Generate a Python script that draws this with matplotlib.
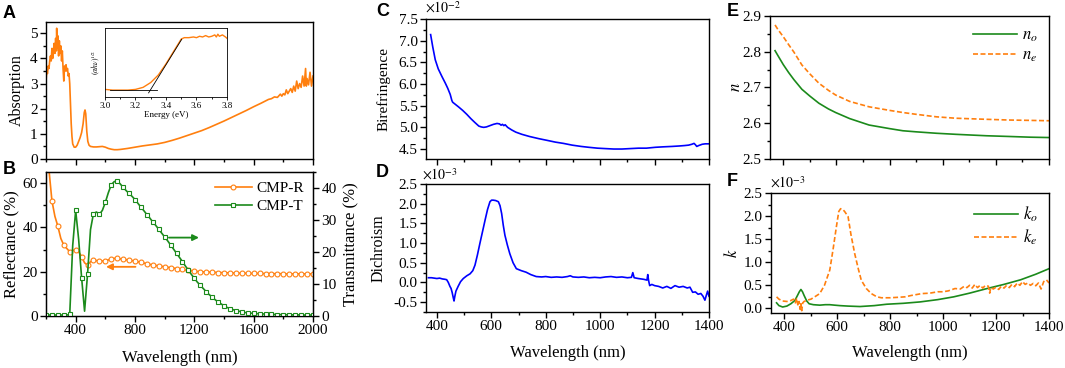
import matplotlib
matplotlib.use("Agg")
import matplotlib.pyplot as plt
from matplotlib.ticker import MultipleLocator, NullFormatter

plt.rcParams["font.family"] = ["Liberation Serif", "DejaVu Serif"]
plt.rcParams["mathtext.fontset"] = "stix"
plt.rcParams["axes.unicode_minus"] = False

ORANGE = "#FF7F0E"
GREEN = "#1B8A1B"
BLUE = "#0000FF"

# ---- panel A: absorption spectrum
abs_wl = [200, 205, 210, 215, 220, 225, 230, 235, 240, 245, 250, 255, 260, 265, 270, 272, 275, 280, 285, 290,
          295, 300, 305, 310, 315, 320, 325, 330, 335, 340, 345, 350, 355, 360, 365, 370, 375, 380, 390, 400,
          410, 420, 430, 440, 450, 458, 463, 468, 475, 482, 490, 500, 520, 540, 560, 580, 600, 620, 640, 660,
          680, 700, 750, 800, 850, 900, 950, 1000, 1050, 1100, 1150, 1200, 1250, 1300, 1350, 1400, 1450, 1500, 1550, 1600,
          1650, 1700, 1720, 1740, 1760, 1780, 1790, 1800, 1810, 1820, 1830, 1840, 1850, 1860, 1870, 1880, 1890, 1900, 1910, 1920,
          1930, 1940, 1950, 1955, 1960, 1970, 1980, 1990, 2000]
abs_val = [3.1, 3.5, 3.4, 3.7, 3.6, 3.9, 4.1, 3.9, 4.4, 4.0, 4.3, 4.6, 4.2, 4.8, 4.3, 5.2, 4.4, 4.9, 4.1, 4.7,
           4.2, 4.5, 3.9, 4.3, 3.6, 3.1, 3.7, 3.5, 3.75, 3.5, 3.6, 3.3, 3.4, 3.0, 2.2, 1.4, 0.9, 0.6, 0.47, 0.47,
           0.55, 0.7, 0.85, 1.05, 1.4, 1.85, 1.95, 1.8, 1.1, 0.7, 0.55, 0.5, 0.48, 0.48, 0.49, 0.5, 0.47, 0.42, 0.39, 0.37,
           0.37, 0.38, 0.42, 0.47, 0.52, 0.56, 0.6, 0.66, 0.74, 0.83, 0.93, 1.03, 1.13, 1.25, 1.38, 1.51, 1.65, 1.79, 1.93, 2.08,
           2.22, 2.37, 2.4, 2.47, 2.45, 2.58, 2.5, 2.6, 2.55, 2.75, 2.6, 2.7, 2.8, 2.65, 2.9, 2.7, 3.1, 2.8, 3.0, 2.85,
           3.3, 2.9, 3.6, 2.9, 3.2, 2.95, 3.45, 2.9, 3.3]

# inset: Tauc plot
tauc_e = [3.0, 3.05, 3.1, 3.15, 3.2, 3.25, 3.3, 3.35, 3.4, 3.45, 3.5, 3.52, 3.55, 3.58, 3.6, 3.62, 3.64, 3.66,
          3.68, 3.7, 3.72, 3.73, 3.74, 3.75, 3.77, 3.79, 3.8]
tauc_y = [0.11, 0.10, 0.10, 0.10, 0.11, 0.14, 0.21, 0.32, 0.48, 0.66, 0.84, 0.86, 0.86, 0.87, 0.86, 0.88, 0.87, 0.89,
          0.87, 0.88, 0.90, 0.87, 0.91, 0.88, 0.90, 0.87, 0.85]
fit_e = [3.286, 3.503]
fit_y = [0.06, 0.836]
base_e = [3.03, 3.34]
base_y = [0.10, 0.10]

# ---- panel B: reflectance / transmittance
rt_wl = list(range(200, 2001, 20))
refl = [85, 66, 52, 45, 40.5, 35, 32, 30.5, 29, 29.5, 30, 29, 26.8, 24, 23, 24.5, 25.3, 25, 24.8, 24.8,
        25, 25.3, 25.7, 26, 26, 25.8, 25.6, 25.4, 25.2, 25, 24.8, 24.5, 24.2, 23.9, 23.6, 23.3, 23, 22.8, 22.6, 22.4,
        22.2, 22, 21.8, 21.6, 21.4, 21.2, 21, 20.8, 20.6, 20.4, 20.2, 20.1, 20, 19.9, 19.8, 19.8, 19.7, 19.7, 19.6, 19.6,
        19.5, 19.5, 19.4, 19.4, 19.4, 19.3, 19.3, 19.3, 19.3, 19.2, 19.2, 19.2, 19.2, 19.2, 19.1, 19.1, 19.1, 19.1, 19.1, 19.1,
        19.0, 19.0, 19.0, 19.0, 19.0, 19.0, 19.0, 19.0, 19.0, 19.0, 19.0]
trans = [0.3, 0.3, 0.3, 0.3, 0.3, 0.3, 0.3, 0.3, 0.5, 22, 33, 24, 12, 1.5, 13, 27, 32, 32.5, 31.8, 33,
         35.5, 38.5, 41, 42, 42.2, 41.3, 40.2, 39.2, 38.3, 37.4, 36.4, 35.2, 34.0, 32.9, 31.7, 30.6, 29.4, 28.3, 27.1, 25.9,
         24.7, 23.5, 22.2, 20.9, 19.6, 18.3, 17.0, 15.6, 14.3, 13.0, 11.8, 10.6, 9.6, 8.6, 7.6, 6.7, 5.9, 5.1, 4.4, 3.8,
         3.2, 2.7, 2.3, 2.0, 1.7, 1.5, 1.3, 1.1, 1.0, 0.9, 0.8, 0.75, 0.7, 0.65, 0.6, 0.55, 0.5, 0.5, 0.45, 0.45,
         0.4, 0.4, 0.4, 0.35, 0.35, 0.35, 0.3, 0.3, 0.3, 0.3, 0.3]

# ---- panel C: birefringence (x1e-2)
bi_wl = [377, 385, 394, 405, 418, 431, 440, 449, 455, 458, 468, 480, 495, 510, 525, 540, 554, 563, 572, 582,
         595, 608, 621, 630, 636, 641, 646, 651, 660, 675, 690, 712, 740, 774, 805, 835, 865, 897, 930, 958,
         990, 1019, 1050, 1080, 1110, 1141, 1170, 1203, 1230, 1264, 1290, 1310, 1325, 1337, 1345, 1350, 1355, 1362, 1375, 1386,
         1400]
bi_val = [7.14, 6.85, 6.56, 6.35, 6.18, 6.02, 5.9, 5.76, 5.62, 5.58, 5.53, 5.47, 5.39, 5.3, 5.2, 5.11, 5.03, 5.01, 5.0, 5.01,
          5.04, 5.07, 5.09, 5.08, 5.05, 5.07, 5.04, 5.06, 5.0, 4.94, 4.89, 4.84, 4.79, 4.74, 4.7, 4.66, 4.63, 4.59, 4.56, 4.54,
          4.52, 4.51, 4.5, 4.5, 4.51, 4.52, 4.52, 4.54, 4.55, 4.56, 4.57, 4.58, 4.59, 4.61, 4.63, 4.6, 4.56, 4.58, 4.61, 4.62,
          4.62]

# ---- panel D: dichroism (x1e-3)
di_wl = [369, 380, 390, 400, 410, 420, 430, 436, 442, 448, 452, 456, 460, 463, 466, 470, 478, 487, 497, 510,
         522, 532, 540, 549, 558, 568, 577, 586, 595, 601, 607, 616, 626, 632, 638, 644, 650, 659, 668, 680,
         692, 710, 728, 745, 765, 785, 800, 820, 840, 860, 880, 890, 900, 920, 940, 960, 980, 1000, 1020, 1040,
         1060, 1080, 1100, 1115, 1120, 1125, 1140, 1160, 1172, 1175, 1178, 1182, 1190, 1200, 1215, 1230, 1245, 1260, 1275, 1290,
         1305, 1320, 1330, 1340, 1350, 1360, 1370, 1378, 1385, 1390, 1395, 1400]
di_val = [0.12, 0.12, 0.11, 0.1, 0.11, 0.09, 0.08, 0.07, 0.0, -0.1, -0.15, -0.25, -0.38, -0.47, -0.35, -0.22, -0.1, 0.02, 0.1, 0.17,
          0.22, 0.3, 0.44, 0.7, 0.99, 1.3, 1.58, 1.85, 2.05, 2.09, 2.09, 2.08, 2.05, 1.95, 1.75, 1.45, 1.2, 0.95, 0.73, 0.5,
          0.35, 0.3, 0.26, 0.2, 0.15, 0.14, 0.15, 0.13, 0.14, 0.13, 0.15, 0.17, 0.14, 0.13, 0.14, 0.12, 0.13, 0.12, 0.14, 0.15,
          0.13, 0.14, 0.12, 0.13, 0.25, 0.12, 0.1, 0.08, 0.06, 0.2, 0.05, -0.08, -0.05, -0.08, -0.1, -0.14, -0.1, -0.15, -0.08, -0.12,
          -0.1, -0.14, -0.12, -0.25, -0.24, -0.3, -0.28, -0.35, -0.45, -0.33, -0.22, -0.35]

# ---- panel E: refractive index
n_wl = [369, 380, 400, 420, 440, 470, 500, 534, 570, 597, 650, 723, 800, 850, 900, 976, 1050, 1165, 1250, 1330, 1400]
n_o = [2.803, 2.789, 2.764, 2.742, 2.722, 2.695, 2.676, 2.656, 2.640, 2.630, 2.613, 2.595, 2.585, 2.579, 2.576, 2.572,
       2.569, 2.565, 2.563, 2.561, 2.560]
n_e = [2.875, 2.862, 2.842, 2.820, 2.799, 2.763, 2.738, 2.712, 2.692, 2.679, 2.661, 2.646, 2.636, 2.630, 2.625, 2.618,
       2.614, 2.611, 2.609, 2.608, 2.607]

# ---- panel F: extinction (x1e-3)
ko_wl = [371, 380, 394, 410, 425, 440, 450, 457, 463, 469, 475, 485, 494, 510, 534, 555, 572, 590, 610, 640,
         686, 740, 787, 850, 913, 980, 1040, 1100, 1166, 1230, 1293, 1350, 1400]
k_o = [0.12, 0.06, 0.03, 0.05, 0.1, 0.17, 0.28, 0.36, 0.41, 0.36, 0.28, 0.16, 0.1, 0.08, 0.07, 0.08, 0.08, 0.07, 0.06, 0.05,
       0.04, 0.06, 0.09, 0.11, 0.14, 0.19, 0.25, 0.33, 0.43, 0.52, 0.62, 0.74, 0.86]
ke_wl = [371, 380, 394, 410, 425, 435, 442, 447, 452, 456, 460, 463, 466, 470, 475, 488, 501, 515, 534, 552,
         572, 585, 597, 606, 613, 620, 628, 641, 652, 666, 680, 691, 710, 729, 750, 767, 800, 830, 856, 880,
         900, 919, 950, 980, 1000, 1020, 1045, 1065, 1080, 1090, 1100, 1110, 1120, 1130, 1140, 1150, 1160, 1171, 1176, 1180,
         1190, 1200, 1210, 1220, 1230, 1240, 1250, 1260, 1270, 1280, 1290, 1300, 1310, 1320, 1330, 1340, 1350, 1360, 1370, 1380,
         1390, 1400]
k_e = [0.25, 0.2, 0.16, 0.15, 0.17, 0.2, 0.12, 0.22, 0.05, 0.15, -0.02, 0.1, -0.05, 0.12, 0.15, 0.18, 0.2, 0.25, 0.32, 0.5,
       0.83, 1.3, 1.77, 2.1, 2.16, 2.15, 2.1, 1.99, 1.6, 1.19, 0.85, 0.61, 0.43, 0.32, 0.25, 0.23, 0.23, 0.24, 0.25, 0.28,
       0.3, 0.32, 0.33, 0.36, 0.36, 0.38, 0.43, 0.42, 0.48, 0.45, 0.5, 0.44, 0.52, 0.45, 0.5, 0.44, 0.5, 0.48, 0.33, 0.45,
       0.42, 0.46, 0.41, 0.48, 0.44, 0.5, 0.45, 0.52, 0.47, 0.55, 0.5, 0.58, 0.52, 0.55, 0.5, 0.54, 0.49, 0.55, 0.42, 0.58,
       0.62, 0.55]

W, H = 1065, 368


def rect(l, t, r, b):
    return [l / W, 1 - b / H, (r - l) / W, (b - t) / H]


def style(ax, xmaj, xmin, ymaj, ymin, right=False):
    for s in ax.spines.values():
        s.set_linewidth(1.0)
    ax.xaxis.set_major_locator(MultipleLocator(xmaj))
    ax.xaxis.set_minor_locator(MultipleLocator(xmin))
    ax.yaxis.set_major_locator(MultipleLocator(ymaj))
    ax.yaxis.set_minor_locator(MultipleLocator(ymin))
    ax.tick_params(which="both", direction="out", top=False, right=right, width=1.0, labelsize=11, pad=2)
    ax.tick_params(which="major", length=4)
    ax.tick_params(which="minor", length=2.5)


fig = plt.figure(figsize=(W / 100, H / 100), dpi=100)

# A
axA = fig.add_axes(rect(46, 22, 313, 159))
axA.plot(abs_wl, abs_val, color=ORANGE, lw=1.2)
axA.set_xlim(200, 2000); axA.set_ylim(0, 5.45)
style(axA, 400, 200, 1, 0.5)
axA.xaxis.set_major_formatter(NullFormatter())
axA.set_ylabel("Absorption", fontsize=11.5)
axA.yaxis.set_label_coords(-0.079, 0.5)

ins = fig.add_axes(rect(105, 28, 227, 97))
ins.plot(tauc_e, tauc_y, color=ORANGE, lw=1.0)
ins.plot(fit_e, fit_y, color="black", lw=0.6)
ins.plot(base_e, base_y, color="black", lw=0.6)
ins.set_xlim(3.0, 3.8); ins.set_ylim(0, 1)
for s in ins.spines.values():
    s.set_linewidth(0.6)
ins.xaxis.set_major_locator(MultipleLocator(0.2))
ins.xaxis.set_minor_locator(MultipleLocator(0.1))
ins.tick_params(which="both", direction="out", labelsize=6.5, width=0.6, pad=1)
ins.tick_params(which="major", length=2.5)
ins.tick_params(which="minor", length=1.5)
ins.set_yticks([])
ins.set_xlabel("Energy (eV)", fontsize=6.5, labelpad=0.5)
ins.set_ylabel(r"$(\alpha h\nu)^{1/2}$", fontsize=5.5, labelpad=2)

# B
axB = fig.add_axes(rect(46, 172, 313, 316))
lr, = axB.plot(rt_wl, refl, color=ORANGE, lw=1.2, marker="o", ms=3.5, mfc="white", mew=0.8,
               markevery=2, label="CMP-R")
axB.set_xlim(200, 2000); axB.set_ylim(0, 65)
style(axB, 400, 200, 20, 10)
axB.set_ylabel("Reflectance (%)", fontsize=12)
axB.yaxis.set_label_coords(-0.10, 0.5)
axB.set_xlabel("Wavelength (nm)", fontsize=12)
axB.xaxis.set_label_coords(0.5, -0.236)
axB2 = axB.twinx()
lt, = axB2.plot(rt_wl, trans, color=GREEN, lw=1.2, marker="s", ms=3.3, mfc="white", mew=0.8,
                markevery=2, label="CMP-T")
axB2.set_ylim(0, 45)
axB2.yaxis.set_major_locator(MultipleLocator(10))
axB2.yaxis.set_minor_locator(MultipleLocator(5))
axB2.tick_params(which="both", direction="out", width=1.0, labelsize=11, pad=2)
axB2.tick_params(which="major", length=4)
axB2.tick_params(which="minor", length=2.5)
axB2.set_ylabel("Transmittance (%)", fontsize=12)
axB2.yaxis.set_label_coords(1.112, 0.5)
axB.annotate("", xy=(586, 22.2), xytext=(822, 22.2),
             arrowprops=dict(arrowstyle="-|>", color=ORANGE, lw=1.3, mutation_scale=9))
axB2.annotate("", xy=(1250, 24.5), xytext=(1010, 24.5),
              arrowprops=dict(arrowstyle="-|>", color=GREEN, lw=1.3, mutation_scale=9))
axB2.legend([lr, lt], ["CMP-R", "CMP-T"], loc="upper right", frameon=False, fontsize=11,
            handlelength=2.4, numpoints=1, borderaxespad=0.2, labelspacing=0.3, handletextpad=0.3)

# C
axC = fig.add_axes(rect(426, 19, 709, 159))
axC.plot(bi_wl, bi_val, color=BLUE, lw=1.2)
axC.set_xlim(360, 1400); axC.set_ylim(4.27, 7.5)
style(axC, 200, 100, 0.5, 0.25)
axC.xaxis.set_major_formatter(NullFormatter())
axC.set_ylabel("Birefringence", fontsize=11)
axC.yaxis.set_label_coords(-0.124, 0.5)

# D
axD = fig.add_axes(rect(426, 184, 709, 312))
axD.plot(di_wl, di_val, color=BLUE, lw=1.2)
axD.set_xlim(360, 1400); axD.set_ylim(-0.75, 2.5)
style(axD, 200, 100, 0.5, 0.25)
axD.set_ylabel("Dichroism", fontsize=11.5)
axD.yaxis.set_label_coords(-0.138, 0.5)
axD.set_xlabel("Wavelength (nm)", fontsize=12)
axD.xaxis.set_label_coords(0.5, -0.26)

# E
axE = fig.add_axes(rect(770, 16, 1049, 159))
axE.plot(n_wl, n_o, color=GREEN, lw=1.2, label=r"$n_o$")
axE.plot(n_wl, n_e, color=ORANGE, lw=1.2, ls=(0, (3, 1.5)), label=r"$n_e$")
axE.set_xlim(350, 1400); axE.set_ylim(2.5, 2.9)
style(axE, 200, 100, 0.1, 0.05)
axE.xaxis.set_major_formatter(NullFormatter())
axE.set_ylabel(r"$n$", fontsize=12)
axE.yaxis.set_label_coords(-0.093, 0.5)
axE.legend(loc="upper right", frameon=False, fontsize=12, handlelength=2.6,
           borderaxespad=0.3, labelspacing=0.2, handletextpad=0.3)

# F
axF = fig.add_axes(rect(771, 193, 1049, 313))
axF.plot(ko_wl, k_o, color=GREEN, lw=1.2, label=r"$k_o$")
axF.plot(ke_wl, k_e, color=ORANGE, lw=1.2, ls=(0, (3, 1.5)), label=r"$k_e$")
axF.set_xlim(350, 1400); axF.set_ylim(-0.1, 2.5)
style(axF, 200, 100, 0.5, 0.25)
axF.set_ylabel(r"$k$", fontsize=12)
axF.yaxis.set_label_coords(-0.108, 0.5)
axF.set_xlabel("Wavelength (nm)", fontsize=12)
axF.xaxis.set_label_coords(0.5, -0.27)
axF.legend(loc="upper right", frameon=False, fontsize=12, handlelength=2.6,
           borderaxespad=0.3, labelspacing=0.2, handletextpad=0.3)

# scale factors
for x, y, s in [(425, 8, r"$\times10^{-2}$"), (422, 175, r"$\times10^{-3}$"), (770, 183, r"$\times10^{-3}$")]:
    fig.text(x / W, 1 - y / H, s, fontsize=10, ha="left", va="center")

# panel letters
for x, y, s in [(3, 14, "A"), (3, 170, "B"), (376, 11, "C"), (376, 173, "D"), (727, 11, "E"), (727, 181, "F")]:
    fig.text(x / W, 1 - y / H, s, fontsize=13, fontweight="bold", family="Liberation Sans",
             ha="left", va="center")

fig.savefig("out.png", dpi=100)
